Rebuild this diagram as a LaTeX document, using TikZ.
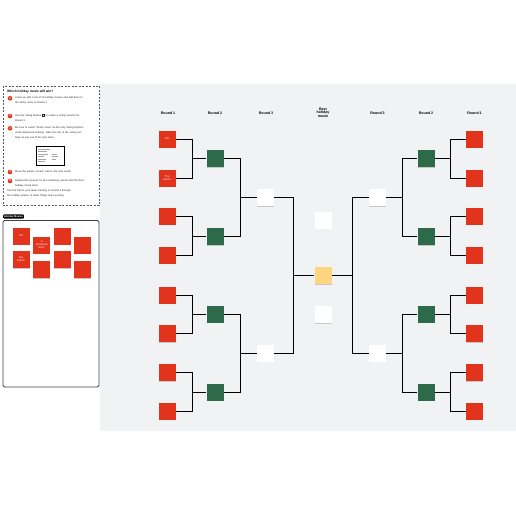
\documentclass[tikz,border=0pt]{standalone}
\usepackage{fontspec}
\setmainfont{Liberation Sans}
\usetikzlibrary{shadows}
\definecolor{bg}{RGB}{241,242,244}
\definecolor{sred}{RGB}{226,52,28}
\definecolor{sgreen}{RGB}{45,106,74}
\definecolor{syellow}{RGB}{255,213,128}
\newcommand{\voteicon}{{\setlength{\fboxsep}{0.35pt}\setlength{\fboxrule}{0.25pt}\fbox{\rule{0pt}{1.3pt}\rule{1.3pt}{0pt}}}}
\begin{document}
\begin{tikzpicture}[x=1pt,y=-1pt,
  sticky/.style={minimum size=17pt, inner sep=0pt, text width=15pt, align=center,
    general shadow={fill=black!22, shadow xshift=0pt, shadow yshift=-0.9pt},
    text=white, font=\fontsize{2.6}{3}\selectfont},
  redst/.style={sticky, fill=sred},
  greenst/.style={sticky, fill=sgreen},
  whitest/.style={sticky, fill=white},
  yellowst/.style={sticky, fill=syellow},
  link/.style={draw=black, line width=1pt},
  hdr/.style={font=\fontsize{3.6}{4}\selectfont\bfseries, align=center, inner sep=0pt},
  num/.style={circle, fill=sred, inner sep=0pt, minimum size=4.6pt, text=white, font=\fontsize{2.6}{3}\selectfont\bfseries},
  itxt/.style={anchor=north west, inner sep=0pt, text width=70pt, align=left, font=\fontsize{2.6}{5.3}\selectfont, text=black!85}
]
\useasboundingbox (0,0) rectangle (516,516);
\fill[bg] (100,84) rectangle (516,431);

% headers
\node[hdr] (h1) at (168,113) {Round 1};
\node[hdr] (h2) at (215,113) {Round 2};
\node[hdr] (h3) at (266,113) {Round 3};
\node[hdr] (hb) at (323,112.5) {Best\\[-0.6pt]holiday\\[-0.6pt]movie};
\node[hdr] (h3r) at (377.5,113) {Round 3};
\node[hdr] (h2r) at (426,113) {Round 2};
\node[hdr] (h1r) at (474.5,113) {Round 1};

% left round 1
\node[redst] (a1) at (167,139) {Elf};
\node[redst] (a2) at (167,178) {The\\Grinch};
\node[redst] (a3) at (167,216) {};
\node[redst] (a4) at (167,255) {};
\node[redst] (a5) at (167,295) {};
\node[redst] (a6) at (167,333.5) {};
\node[redst] (a7) at (167,372.5) {};
\node[redst] (a8) at (167,411) {};
% left round 2
\node[greenst] (b1) at (215,158.5) {};
\node[greenst] (b2) at (215,236.5) {};
\node[greenst] (b3) at (215,314) {};
\node[greenst] (b4) at (215,392) {};
% left round 3
\node[whitest] (c1) at (265.5,197.5) {};
\node[whitest] (c2) at (265.5,353) {};
% center
\node[whitest] (t1) at (323,220) {};
\node[yellowst] (fin) at (323,275.5) {};
\node[whitest] (t2) at (323,314.5) {};
% right round 3
\node[whitest] (d1) at (377.5,197.5) {};
\node[whitest] (d2) at (377.5,353) {};
% right round 2
\node[greenst] (e1) at (426,158.5) {};
\node[greenst] (e2) at (426,236.5) {};
\node[greenst] (e3) at (426,314) {};
\node[greenst] (e4) at (426,392) {};
% right round 1
\node[redst] (f1) at (474.5,139) {};
\node[redst] (f2) at (474.5,178) {};
\node[redst] (f3) at (474.5,216) {};
\node[redst] (f4) at (474.5,255) {};
\node[redst] (f5) at (474.5,295) {};
\node[redst] (f6) at (474.5,333.5) {};
\node[redst] (f7) at (474.5,372.5) {};
\node[redst] (f8) at (474.5,411) {};

% left connectors
\foreach \s/\t in {a1/b1,a2/b1,a3/b2,a4/b2,a5/b3,a6/b3,a7/b4,a8/b4}
  \draw[link] (\s.east) -- ++(16.5,0) |- (\t.west);
\foreach \s/\t in {b1/c1,b2/c1,b3/c2,b4/c2}
  \draw[link] (\s.east) -- ++(17.2,0) |- (\t.west);
\foreach \s in {c1,c2}
  \draw[link] (\s.east) -- ++(19,0) |- (fin.west);
% right connectors
\foreach \s/\t in {f1/e1,f2/e1,f3/e2,f4/e2,f5/e3,f6/e3,f7/e4,f8/e4}
  \draw[link] (\s.west) -- ++(-15.3,0) |- (\t.east);
\foreach \s/\t in {e1/d1,e2/d1,e3/d2,e4/d2}
  \draw[link] (\s.west) -- ++(-15.2,0) |- (\t.east);
\foreach \s in {d1,d2}
  \draw[link] (\s.west) -- ++(-16,0) |- (fin.east);

% instruction panel
\draw[black!65, line width=0.6pt, dash pattern=on 2pt off 1.5pt] (3,86) rectangle (99,205.5);
\node[anchor=west, inner sep=0pt, font=\fontsize{3.2}{4}\selectfont\bfseries] (title) at (7,91.5) {Which holiday movie will win?};
\node[num] (n1) at (10,98.3) {1};
\node[itxt] (i1) at (15,96.3) {Come up with a list of 16 holiday movies and add them to the sticky notes in Round 1.};
\node[num] (n2) at (10,116) {2};
\node[itxt] (i2) at (15,114) {Use the Voting feature \voteicon\ to create a voting session for Round 1.};
\node[num] (n3) at (10,128.3) {3};
\node[itxt] (i3) at (15,126.3) {Be sure to select ``Sticky notes'' as the only Voting Options under Advanced settings. Alter the rest of the voting settings as you see fit for your team.};
% screenshot
\node[draw=black, line width=0.8pt, fill=white, minimum width=28pt, minimum height=19pt, inner sep=0pt] (shot) at (50,155.5) {};
\foreach \yy/\ww in {149/12,151.5/9,154/10,156.5/6,159/8,161.5/7}
  \draw[black!35, line width=0.5pt] ([xshift=2.5pt]shot.west |- 0,\yy) -- ++(\ww,0);
\foreach \yy/\ww in {154/5,156.5/6,159/4}
  \draw[black!35, line width=0.5pt] ([xshift=16pt]shot.west |- 0,\yy) -- ++(\ww,0);
\node[num] (n4) at (10,172) {4};
\node[itxt] (i4) at (15,170) {Move the winner of each vote to the next round.};
\node[num] (n5) at (10,181) {5};
\node[itxt] (i5) at (15,179) {Repeat this process for the remaining rounds until the best holiday movie wins!};
\node[itxt, text width=66pt] (para) at (7,189.3) {Use the Poll in your team meeting or extend it through the holiday season to make things more exciting.};

% holiday movies panel
\draw[black!75, line width=0.8pt, rounded corners=1.5pt, fill=white] (3,220.5) rectangle (99,387);
\node[fill=black, rounded corners=1pt, text=white, inner sep=0.9pt, font=\fontsize{2.6}{3}\selectfont\bfseries, anchor=west] (tab) at (3,216.5) {Holiday Movies};
\node[redst] (p1) at (21,236) {Elf};
\node[redst] (p2) at (21,259.2) {The\\Grinch};
\node[redst] (p3) at (41.7,245) {A\\Christmas\\Story};
\node[redst] (p4) at (41.7,269.5) {};
\node[redst] (p5) at (62,236) {};
\node[redst] (p6) at (62,259.2) {};
\node[redst] (p7) at (82.7,245) {};
\node[redst] (p8) at (82.7,269.5) {};
\end{tikzpicture}
\end{document}
